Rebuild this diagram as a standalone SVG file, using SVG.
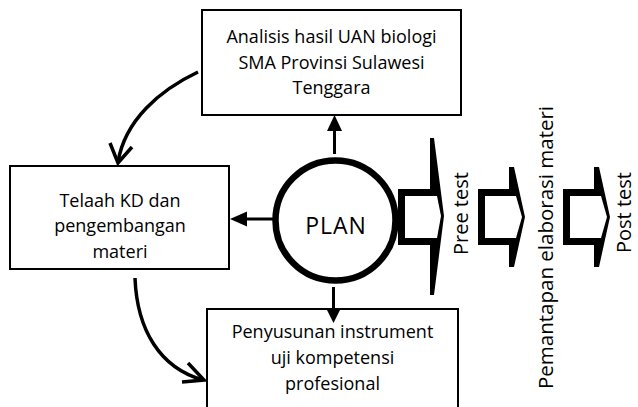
<svg xmlns="http://www.w3.org/2000/svg" width="638" height="407" viewBox="0 0 638 407">
<style>
.box{fill:#fff;stroke:#000;stroke-width:2}
.t{font-family:"Open Sans","Noto Sans","Liberation Sans",sans-serif;font-size:18px;fill:#000;text-anchor:middle}
.rt{font-family:"Open Sans","Noto Sans","Liberation Sans",sans-serif;font-size:20px;fill:#000}
.ln{fill:none;stroke:#000;stroke-width:3}
.cv{fill:none;stroke:#000;stroke-width:3.5;stroke-linecap:butt}
.ah{fill:#000}
</style>
<rect width="638" height="407" fill="#fff"/>
<g id="connectors">
  <line class="ln" x1="334.5" y1="154" x2="334.5" y2="128"/>
  <polygon class="ah" points="334.5,115 327,131 342,131"/>
  <line class="ln" x1="273" y1="219" x2="246" y2="219"/>
  <polygon class="ah" points="230,219 247,211.5 247,226.5"/>
  <line class="ln" x1="333.5" y1="287" x2="333.5" y2="310"/>
  <path class="cv" d="M198,72 C160,90 125,120 118,162"/>
  <polyline class="cv" points="110,143 118,163 132,147"/>
  <path class="cv" d="M135,278 C137,330 160,368 203,380"/>
  <polyline class="cv" points="188,363 204,380 182,382"/>
</g>
<g id="node-analisis">
  <rect class="box" x="202" y="10" width="259" height="105"/>
  <text class="t" x="331.5" y="43">Analisis hasil UAN biologi</text>
  <text class="t" x="331.5" y="68.5">SMA Provinsi Sulawesi</text>
  <text class="t" x="331.5" y="94">Tenggara</text>
</g>
<g id="node-telaah">
  <rect class="box" x="10" y="166" width="219" height="103"/>
  <text class="t" x="120" y="207">Telaah KD dan</text>
  <text class="t" x="120" y="232">pengembangan</text>
  <text class="t" x="120" y="258">materi</text>
</g>
<g id="node-penyusunan">
  <rect class="box" x="207" y="309" width="251" height="110"/>
  <text class="t" x="332.5" y="338">Penyusunan instrument</text>
  <text class="t" x="332.5" y="364">uji kompetensi</text>
  <text class="t" x="332.5" y="390">profesional</text>
  <polygon class="ah" points="333.5,323 326,308 341,308"/>
</g>
<g id="node-plan">
  <circle cx="335.5" cy="220.5" r="60" fill="#fff" stroke="#000" stroke-width="6.5"/>
  <text class="t" x="336" y="234" style="font-size:23px;letter-spacing:1px">PLAN</text>
</g>
<g id="arrow-1">
  <path d="M398,189 H430 V138 H434 L444,216 L434,295 H430 V245 H398 Z" fill="#000"/>
  <path d="M405,196 H437 L441,216 L437,238 H405 Z" fill="#fff"/>
</g>
<g id="arrow-2">
  <path d="M478,189 H509 V167 H514 L525,217 L514,267 H509 V245 H478 Z" fill="#000"/>
  <path d="M485,196 H516 L522,217 L516,238 H485 Z" fill="#fff"/>
</g>
<g id="arrow-3">
  <path d="M563,189 H594 V167 H599 L610,217 L599,267 H594 V245 H563 Z" fill="#000"/>
  <path d="M570,196 H601 L607,217 L601,238 H570 Z" fill="#fff"/>
</g>
<g id="label-pree">
  <text class="rt" transform="translate(468,255) rotate(-90)">Pree test</text>
</g>
<g id="label-pemantapan">
  <text class="rt" transform="translate(553,389) rotate(-90)" style="font-size:20.5px">Pemantapan elaborasi materi</text>
</g>
<g id="label-post">
  <text class="rt" transform="translate(631,253) rotate(-90)">Post test</text>
</g>
</svg>
